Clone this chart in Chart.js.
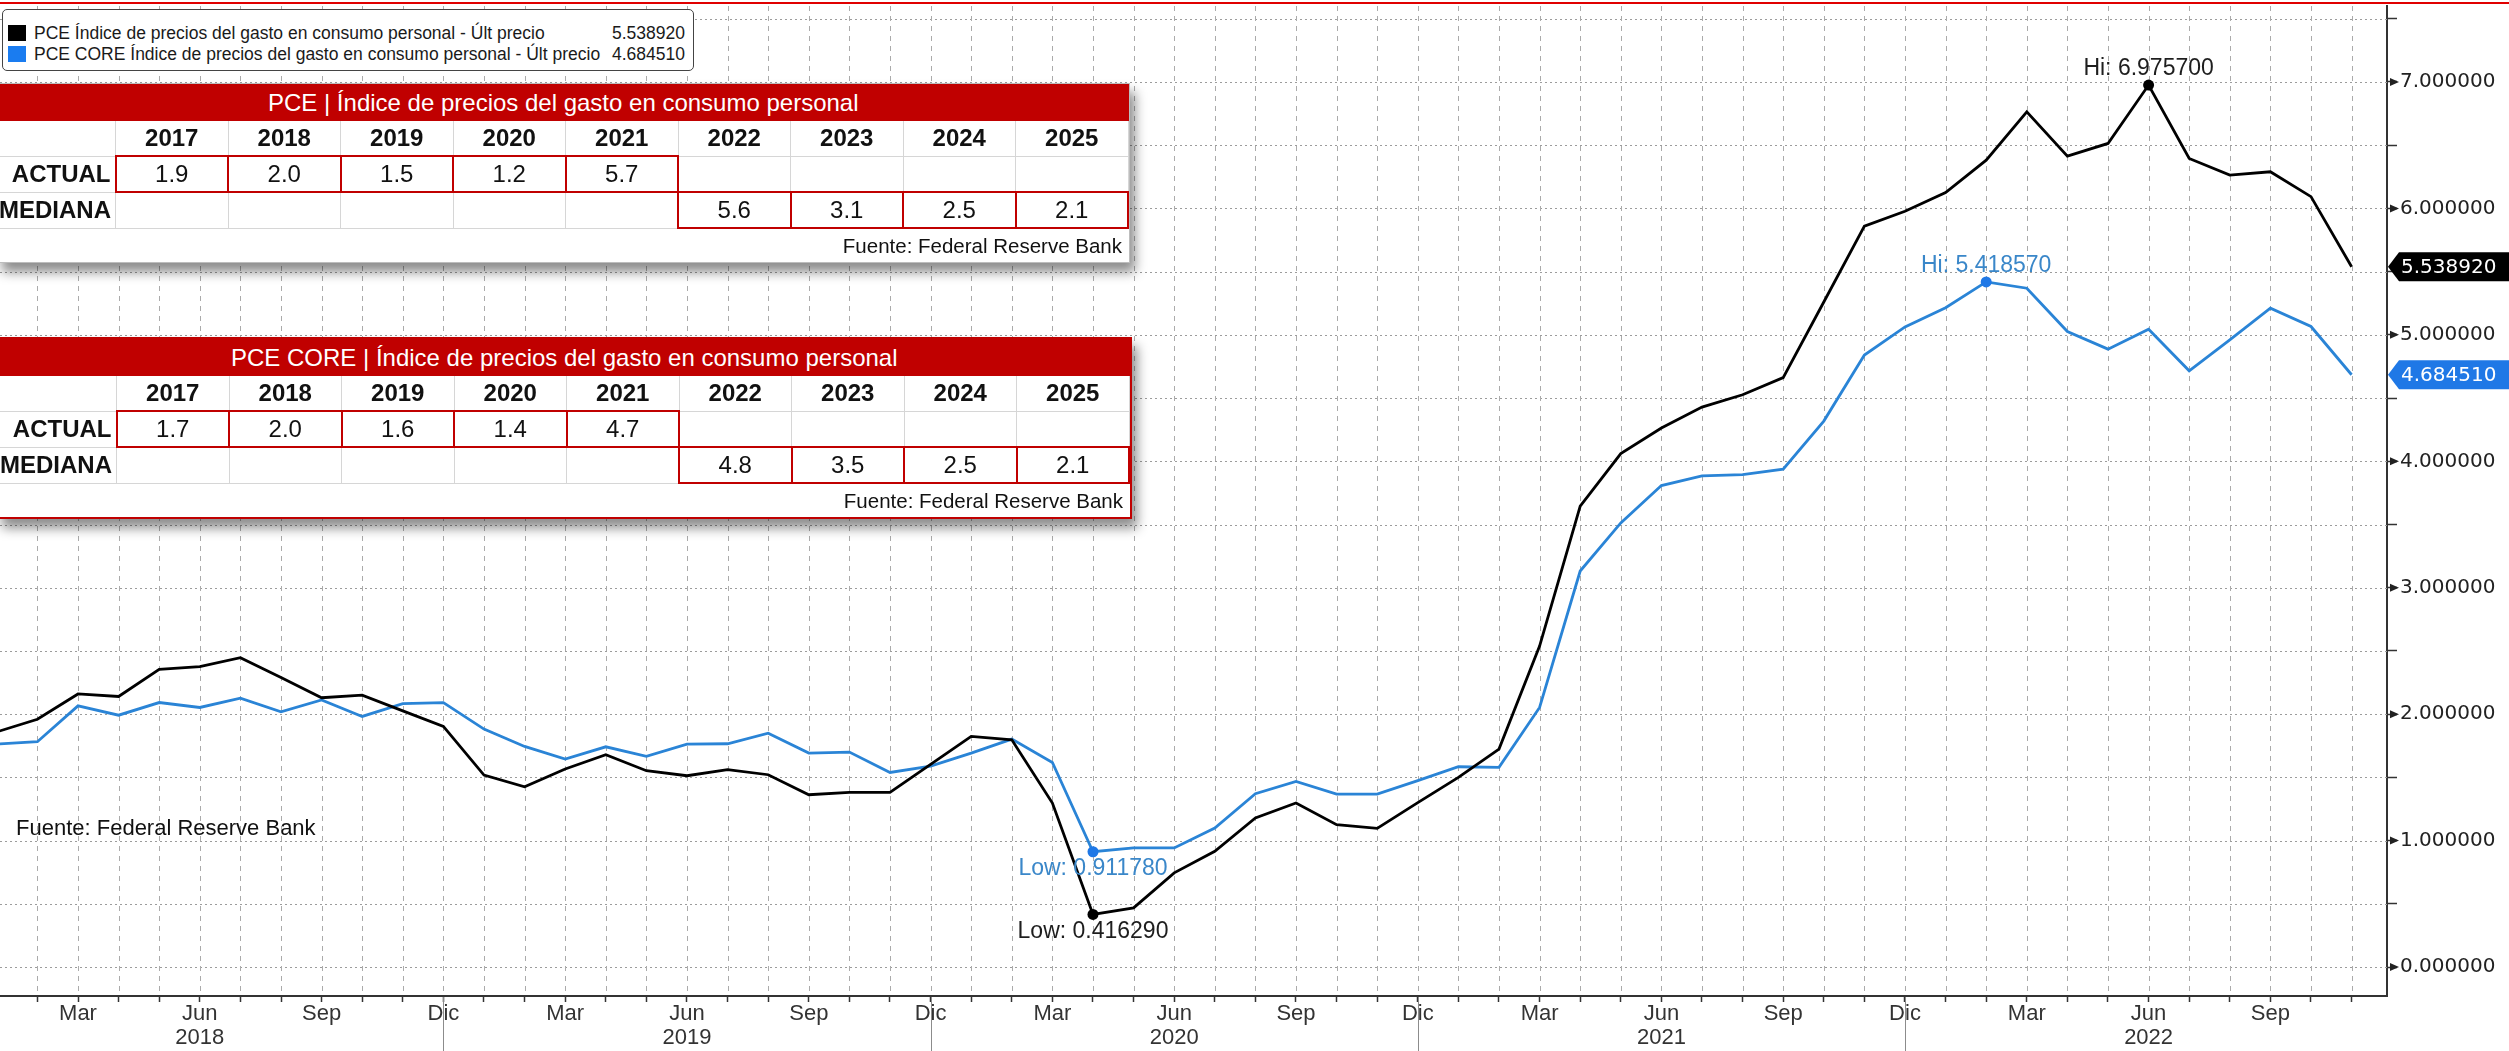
<!DOCTYPE html>
<html lang="es">
<head>
<meta charset="utf-8">
<title>PCE y PCE CORE</title>
<script src="https://cdn.jsdelivr.net/npm/chart.js@4.4.1/dist/chart.umd.min.js"></script>
<style>
  html, body { margin: 0; padding: 0; background: #fff; }
  #wrap { position: relative; width: 2509px; height: 1051px; overflow: hidden; font-family: "Liberation Sans", Arial, sans-serif; }
  #chart { position: absolute; left: 0; top: 0; }

  /* legend box */
  .legend { position: absolute; left: 2px; top: 9px; width: 690px; height: 60px; border: 1.5px solid #444; border-radius: 5px; background: #fff; font-size: 17.5px; color: #1a1a1a; }
  .legend .row { position: absolute; left: 0; right: 0; height: 20px; line-height: 20px; }
  .legend .sw { position: absolute; left: 5px; top: 2px; width: 18px; height: 16px; }
  .legend .txt { position: absolute; left: 31px; white-space: nowrap; }
  .legend .val { position: absolute; right: 8px; }

  /* tables */
  .tbl { position: absolute; left: -3px; width: 1131px; background: #fff; box-shadow: 5px 9px 11px rgba(0,0,0,.45); }
  .tbl.grey { border: 1px solid #bdbdbd; }
  .tbl.red { border: 2px solid #c00000; }
  .tbl table { border-collapse: collapse; table-layout: fixed; width: 100%; color: #111; }
  .tbl td { border: 1px solid #d6d6d6; padding: 0; text-align: center; font-size: 24px; overflow: hidden; white-space: nowrap; }
  .tbl tr.ttl td { background: #c00000; color: #fff; height: 35px; border: 1px solid #c00000; }
  .tbl tr.yrs td { font-weight: bold; height: 34px; }
  .tbl tr.vals td { height: 34px; }
  .tbl td.lbl { font-weight: bold; text-align: right; padding-right: 4px; }
  .tbl td.hl { border: 2px solid #c00000; }
  .tbl tr.src td { text-align: right; font-size: 20.5px; padding-right: 6px; height: 33px; border: none; }

  .source { position: absolute; left: 16px; top: 815px; font-size: 22px; color: #111; white-space: nowrap; }
</style>
</head>
<body>
<div id="wrap">
  <canvas id="chart" width="2509" height="1051"></canvas>
  <div class="legend" id="legend"></div>
  <div class="tbl grey" id="tblPce" style="top:83px"></div>
  <div class="tbl red" id="tblCore" style="top:337px"></div>
  <div class="source">Fuente: Federal Reserve Bank</div>
</div>

<script>
/* ================================
   DATA
================================ */
const monthNames = ['Ene','Feb','Mar','Abr','May','Jun','Jul','Ago','Sep','Oct','Nov','Dic'];
const labelMonths = ['Mar','Jun','Sep','Dic'];
const yearLabelMonth = 'Jun';
const firstYear = 2018;   // first point = Ene 2018

// PCE, % a/a, Ene 2018 .. Nov 2022
const pce = [
  1.86, 1.96, 2.16, 2.14, 2.355, 2.376, 2.447, 2.29, 2.13, 2.15, 2.026, 1.903,
  1.518, 1.426, 1.566, 1.679, 1.553, 1.513, 1.561, 1.521, 1.363, 1.382, 1.382, 1.603,
  1.824, 1.797, 1.297, 0.41629, 0.468, 0.745, 0.916, 1.179, 1.297, 1.126, 1.097, 1.30,
  1.50, 1.724, 2.539, 3.645, 4.061, 4.263, 4.429, 4.526, 4.662, 5.26, 5.86, 5.978,
  6.125, 6.382, 6.764, 6.414, 6.514, 6.9757, 6.395, 6.264, 6.29, 6.093, 5.53892
];

// PCE CORE, % a/a, Ene 2018 .. Nov 2022
const pceCore = [
  1.763, 1.782, 2.066, 1.992, 2.092, 2.053, 2.126, 2.018, 2.113, 1.982, 2.084, 2.092,
  1.882, 1.745, 1.645, 1.742, 1.666, 1.763, 1.766, 1.85, 1.692, 1.70, 1.539, 1.59,
  1.692, 1.803, 1.618, 0.91178, 0.942, 0.942, 1.10, 1.371, 1.468, 1.368, 1.368, 1.474,
  1.584, 1.579, 2.053, 3.132, 3.513, 3.808, 3.884, 3.895, 3.938, 4.318, 4.84, 5.063,
  5.215, 5.41857, 5.369, 5.026, 4.887, 5.045, 4.716, 4.96, 5.211, 5.066, 4.68451
];

const seriesNames = [
  'PCE Índice de precios del gasto en consumo personal - Últ precio',
  'PCE CORE Índice de precios del gasto en consumo personal - Últ precio'
];

// tables (Fed projections)
const tableYears = [2017, 2018, 2019, 2020, 2021, 2022, 2023, 2024, 2025];
const pceActual  = [1.9, 2.0, 1.5, 1.2, 5.7, null, null, null, null];
const pceMedian  = [null, null, null, null, null, 5.6, 3.1, 2.5, 2.1];
const coreActual = [1.7, 2.0, 1.6, 1.4, 4.7, null, null, null, null];
const coreMedian = [null, null, null, null, null, 4.8, 3.5, 2.5, 2.1];

/* ================================
   STYLE
================================ */
const BLACK = '#000000';
const BLUE = '#2a84d6';
const BLUE_TAG = '#1f78e6';
const BLUE_TEXT = '#3a87c9';

/* ================================
   TABLES
================================ */
function buildTable(el, title, actual, median) {
  const cell = v => v == null ? '<td></td>' : `<td class="hl">${v.toFixed(1)}</td>`;
  let html = '<table><colgroup><col style="width:117px">' +
    tableYears.map(() => '<col>').join('') + '</colgroup>';
  html += `<tr class="ttl"><td colspan="${tableYears.length + 1}">${title}</td></tr>`;
  html += '<tr class="yrs"><td></td>' + tableYears.map(y => `<td>${y}</td>`).join('') + '</tr>';
  html += '<tr class="vals"><td class="lbl">ACTUAL</td>' + actual.map(cell).join('') + '</tr>';
  html += '<tr class="vals"><td class="lbl">MEDIANA</td>' + median.map(cell).join('') + '</tr>';
  html += `<tr class="src"><td colspan="${tableYears.length + 1}">Fuente: Federal Reserve Bank</td></tr>`;
  html += '</table>';
  el.innerHTML = html;
}

buildTable(document.getElementById('tblPce'),
  'PCE | Índice de precios del gasto en consumo personal', pceActual, pceMedian);
buildTable(document.getElementById('tblCore'),
  'PCE CORE | Índice de precios del gasto en consumo personal', coreActual, coreMedian);

/* ================================
   LEGEND
================================ */
const legend = document.getElementById('legend');
[[pce, BLACK, '#000'], [pceCore, BLUE, '#1a7cf0']].forEach(([arr, c, sw], i) => {
  const row = document.createElement('div');
  row.className = 'row';
  row.style.top = (i === 0 ? 13 : 34) + 'px';
  row.innerHTML = `<span class="sw" style="background:${sw}"></span>` +
    `<span class="txt">${seriesNames[i]}</span>` +
    `<span class="val">${arr[arr.length - 1].toFixed(6)}</span>`;
  legend.appendChild(row);
});

/* ================================
   CHART
================================ */
function extremes(arr) {
  let hi = 0, lo = 0;
  arr.forEach((v, i) => {
    if (v > arr[hi]) hi = i;
    if (v < arr[lo]) lo = i;
  });
  return { hi, lo };
}

const ext = [extremes(pce), extremes(pceCore)];
const lastIdx = pce.length - 1;

function markerRadius(ctx) {
  const e = ext[ctx.datasetIndex];
  return (ctx.dataIndex === e.hi || ctx.dataIndex === e.lo) ? 5.5 : 0;
}

const decor = {
  id: 'decor',
  beforeDatasetsDraw(chart) {
    const { ctx, chartArea: a, scales: { x, y } } = chart;
    ctx.save();
    ctx.lineWidth = 1;

    // dotted horizontal grid
    ctx.strokeStyle = '#9c9c9c';
    ctx.setLineDash([2, 3]);
    y.ticks.forEach(t => {
      const py = Math.round(y.getPixelForValue(t.value)) + 0.5;
      ctx.beginPath(); ctx.moveTo(a.left, py); ctx.lineTo(a.right, py); ctx.stroke();
    });

    // dashed vertical grid, one per month
    ctx.strokeStyle = '#ababab';
    ctx.setLineDash([5, 5]);
    x.ticks.forEach(t => {
      const px = Math.round(x.getPixelForValue(t.value)) + 0.5;
      ctx.beginPath(); ctx.moveTo(px, a.top); ctx.lineTo(px, a.bottom); ctx.stroke();
    });
    ctx.restore();
  },
  afterDraw(chart) {
    const { ctx, chartArea: a, scales: { x, y } } = chart;
    ctx.save();

    // red frame line on top
    ctx.fillStyle = '#e00000';
    ctx.fillRect(0, 2, chart.width, 2);

    // year separators under the axis
    ctx.strokeStyle = '#8c8c8c';
    ctx.lineWidth = 1;
    x.ticks.forEach(t => {
      if (monthNames[t.value % 12] !== 'Dic') return;
      const px = Math.round(x.getPixelForValue(t.value)) + 0.5;
      ctx.beginPath(); ctx.moveTo(px, a.bottom + 1); ctx.lineTo(px, chart.height); ctx.stroke();
    });

    // arrow heads on major y ticks
    ctx.fillStyle = '#222';
    y.ticks.forEach(t => {
      if (!Number.isInteger(Math.round(t.value * 1000) / 1000)) return;
      const py = y.getPixelForValue(t.value);
      ctx.beginPath();
      ctx.moveTo(a.right + 3, py - 4);
      ctx.lineTo(a.right + 12, py);
      ctx.lineTo(a.right + 3, py + 4);
      ctx.closePath();
      ctx.fill();
    });

    // Hi / Low labels
    ctx.font = '23px "Liberation Sans", Arial, sans-serif';
    ctx.textAlign = 'center';
    ctx.textBaseline = 'middle';
    const src = [pce, pceCore];
    const txtColor = ['#1e1e1e', BLUE_TEXT];
    chart.data.datasets.forEach((ds, di) => {
      const meta = chart.getDatasetMeta(di);
      const e = ext[di];
      const ph = meta.data[e.hi], pl = meta.data[e.lo];
      ctx.fillStyle = txtColor[di];
      ctx.fillText('Hi: ' + src[di][e.hi].toFixed(6), ph.x, ph.y - 16);
      ctx.fillText('Low: ' + src[di][e.lo].toFixed(6), pl.x, pl.y + 17);
    });

    // last value tags on the right axis
    ctx.font = '20px "DejaVu Sans", Verdana, sans-serif';
    ctx.textAlign = 'left';
    [[pce, BLACK], [pceCore, BLUE_TAG]].forEach(([arr, c]) => {
      const v = arr[lastIdx];
      const py = y.getPixelForValue(v);
      const h = 14.5;
      ctx.fillStyle = c;
      ctx.beginPath();
      ctx.moveTo(a.right + 1, py);
      ctx.lineTo(a.right + 12, py - h);
      ctx.lineTo(chart.width, py - h);
      ctx.lineTo(chart.width, py + h);
      ctx.lineTo(a.right + 12, py + h);
      ctx.closePath();
      ctx.fill();
      ctx.fillStyle = '#fff';
      ctx.fillText(v.toFixed(6), a.right + 14, py + 1);
    });

    ctx.restore();
  }
};

new Chart(document.getElementById('chart'), {
  type: 'line',
  data: {
    datasets: [
      {
        label: seriesNames[0],
        data: pce.map((v, i) => ({ x: i, y: v })),
        borderColor: BLACK,
        borderWidth: 2.8,
        tension: 0,
        pointRadius: markerRadius,
        pointHoverRadius: 0,
        pointBackgroundColor: BLACK,
        pointBorderWidth: 0
      },
      {
        label: seriesNames[1],
        data: pceCore.map((v, i) => ({ x: i, y: v })),
        borderColor: BLUE,
        borderWidth: 2.8,
        tension: 0,
        pointRadius: markerRadius,
        pointHoverRadius: 0,
        pointBackgroundColor: BLUE_TAG,
        pointBorderWidth: 0
      }
    ]
  },
  options: {
    responsive: false,
    animation: false,
    devicePixelRatio: 1,
    layout: { padding: { top: 6, left: 0, right: 0, bottom: 0 } },
    plugins: {
      legend: { display: false },
      tooltip: { enabled: false }
    },
    scales: {
      x: {
        type: 'linear',
        min: 0.0788,
        max: 58.872,
        afterBuildTicks: (scale) => {
          const t = [];
          for (let m = 1; m < pce.length; m++) t.push({ value: m });
          scale.ticks = t;
        },
        afterFit: (scale) => {
          scale.height = 55;
          scale.paddingLeft = 0;
          scale.paddingRight = 0;
        },
        grid: { drawOnChartArea: false, drawTicks: true, tickLength: 6, tickColor: '#333', tickWidth: 1.5 },
        border: { display: true, color: '#333', width: 2 },
        ticks: {
          autoSkip: false,
          maxRotation: 0,
          minRotation: 0,
          padding: 0,
          color: '#333',
          font: { family: '"Liberation Sans", Arial, sans-serif', size: 22, lineHeight: 1.1 },
          callback: (value) => {
            const name = monthNames[value % 12];
            if (!labelMonths.includes(name)) return '';
            if (name === yearLabelMonth) return [name, String(firstYear + Math.floor(value / 12))];
            return name;
          }
        }
      },
      y: {
        type: 'linear',
        position: 'right',
        min: -0.229,
        max: 7.601,
        afterFit: (scale) => {
          scale.width = 122;
          scale.paddingTop = 0;
          scale.paddingBottom = 0;
        },
        grid: { drawOnChartArea: false, drawTicks: true, tickLength: 10, tickColor: '#333', tickWidth: 1.5 },
        border: { display: true, color: '#333', width: 2 },
        ticks: {
          stepSize: 0.5,
          includeBounds: false,
          padding: 3,
          color: '#222',
          font: { family: '"DejaVu Sans", Verdana, sans-serif', size: 20 },
          callback: (value) => Number.isInteger(Math.round(value * 1000) / 1000) ? value.toFixed(6) : ''
        }
      }
    }
  },
  plugins: [decor]
});
</script>
</body>
</html>
